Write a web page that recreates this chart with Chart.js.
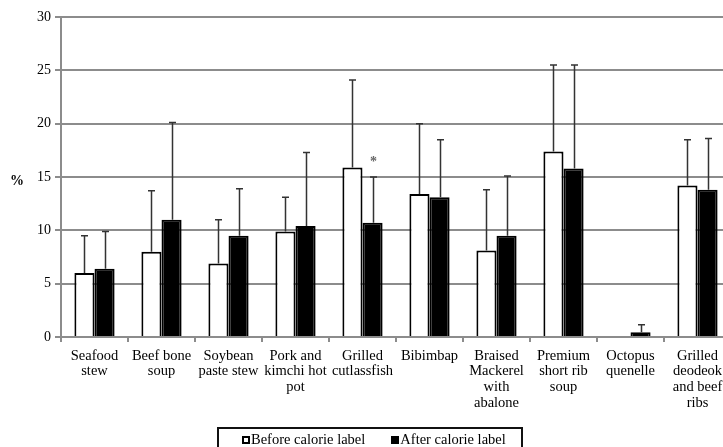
<!DOCTYPE html>
<html>
<head>
<meta charset="utf-8">
<script src="https://cdn.jsdelivr.net/npm/chart.js@4"></script>
<style>
  body { margin: 0; background: #fff; overflow: hidden; }
  #wrap { position: relative; width: 731px; height: 447px; }
  #legend {
    position: absolute; left: 217px; top: 427px; width: 306px; height: 30px;
    border: 2px solid #111; box-sizing: border-box;
    font: 14.5px "Liberation Serif", serif; color: #000;
    padding-top: 2px; padding-left: 23px; white-space: nowrap;
  }
  #legend span.item { margin-right: 26px; }
  #legend span.mark {
    display: inline-block; width: 8px; height: 8px; border: 2px solid #000;
    box-sizing: border-box; margin-right: 1px; vertical-align: 0px;
  }
</style>
</head>
<body>
<div id="wrap">
  <canvas id="chart" width="731" height="447"></canvas>
  <div id="legend"></div>
</div>
<script>
// categories (multi-line labels)
const categories = [
  ["Seafood", "stew"],
  ["Beef bone", "soup"],
  ["Soybean", "paste stew"],
  ["Pork and", "kimchi hot", "pot"],
  ["Grilled", "cutlassfish"],
  ["Bibimbap"],
  ["Braised", "Mackerel", "with", "abalone"],
  ["Premium", "short rib", "soup"],
  ["Octopus", "quenelle"],
  ["Grilled", "deodeok", "and beef", "ribs"]
];

const seriesNames = ["Before calorie label", "After calorie label"];

// mean values (%) and standard deviations (upper error bars)
const beforeValues = [6.0, 8.0, 6.9, 9.9, 15.9, 13.4, 8.1, 17.4, 0, 14.2];
const beforeSd = [3.5, 5.7, 4.1, 3.2, 8.2, 6.6, 5.7, 8.1, 0, 4.3];
const afterValues = [6.4, 11.0, 9.5, 10.4, 10.7, 13.1, 9.5, 15.8, 0.45, 13.8];
const afterSd = [3.5, 9.1, 4.4, 6.9, 4.3, 5.4, 5.6, 9.7, 0.7, 4.8];

// significance markers for the "after" series
const afterMarks = ["", "", "", "", "*", "", "", "", "", ""];

const yTicks = [0, 5, 10, 15, 20, 25, 30];

const errorBars = [beforeSd, afterSd];
const marks = [null, afterMarks];

// draws the upper error bars, the asterisk and the "%" label
const errorBarPlugin = {
  id: "errorBars",
  afterDatasetsDraw(chart) {
    const ctx = chart.ctx;
    const yScale = chart.scales.y;
    chart.data.datasets.forEach((ds, di) => {
      const meta = chart.getDatasetMeta(di);
      meta.data.forEach((bar, i) => {
        const sd = errorBars[di][i];
        const value = ds.data[i];
        if (!sd) return;
        const top = yScale.getPixelForValue(value + sd);
        const x = Math.round(bar.x) + 0.5;
        ctx.save();
        ctx.strokeStyle = "#333";
        ctx.lineWidth = 1.5;
        ctx.beginPath();
        ctx.moveTo(x, bar.y);
        ctx.lineTo(x, top);
        ctx.moveTo(x - 3.5, top);
        ctx.lineTo(x + 3.5, top);
        ctx.stroke();
        if (marks[di] && marks[di][i]) {
          ctx.fillStyle = "#666";
          ctx.font = "bold 14px 'Liberation Serif', serif";
          ctx.textAlign = "center";
          ctx.textBaseline = "middle";
          ctx.fillText(marks[di][i], x, top - 15);
        }
        ctx.restore();
      });
    });
    // axis unit label
    ctx.save();
    ctx.fillStyle = "#000";
    ctx.font = "bold 14px 'Liberation Serif', serif";
    ctx.textAlign = "center";
    ctx.textBaseline = "middle";
    ctx.fillText("%", 17, yScale.getPixelForValue(14.6));
    ctx.restore();
  }
};

new Chart(document.getElementById("chart"), {
  type: "bar",
  data: {
    labels: categories,
    datasets: [
      {
        label: seriesNames[0],
        data: beforeValues,
        backgroundColor: "#fff",
        borderColor: "#000",
        borderWidth: 2,
        borderSkipped: "bottom",
        barPercentage: 1.0,
        categoryPercentage: 0.6
      },
      {
        label: seriesNames[1],
        data: afterValues,
        backgroundColor: "#000",
        borderColor: "#000",
        borderWidth: 2,
        borderSkipped: "bottom",
        barPercentage: 1.0,
        categoryPercentage: 0.6
      }
    ]
  },
  options: {
    responsive: false,
    animation: false,
    layout: { padding: { top: 17, right: 0, left: 0, bottom: 0 } },
    plugins: {
      legend: { display: false },
      tooltip: { enabled: false }
    },
    scales: {
      x: {
        grid: {
          drawOnChartArea: false,
          drawTicks: true,
          tickLength: 5,
          color: "#8c8c8c",
          lineWidth: 2
        },
        border: { display: true, color: "#8c8c8c", width: 2 },
        ticks: {
          color: "#000",
          font: { family: "'Liberation Serif', serif", size: 14.5, lineHeight: 1.08 },
          maxRotation: 0,
          autoSkip: false,
          padding: 6
        },
        afterFit(scale) { scale.height = 110; }
      },
      y: {
        min: 0,
        max: 30,
        afterBuildTicks(scale) {
          scale.ticks = yTicks.map(v => ({ value: v }));
        },
        grid: {
          color: "#8c8c8c",
          lineWidth: 2,
          tickLength: 6
        },
        border: { display: true, color: "#8c8c8c", width: 2 },
        ticks: {
          color: "#000",
          font: { family: "'Liberation Serif', serif", size: 14 },
          padding: 4
        },
        afterFit(scale) { scale.width = 61; }
      }
    }
  },
  plugins: [errorBarPlugin]
});

// simple boxed legend like the original
const legendEl = document.getElementById("legend");
legendEl.innerHTML = seriesNames.map((name, i) =>
  `<span class="item"><span class="mark" style="background:${i === 0 ? "#fff" : "#000"}"></span>${name}</span>`
).join("");
</script>
</body>
</html>
